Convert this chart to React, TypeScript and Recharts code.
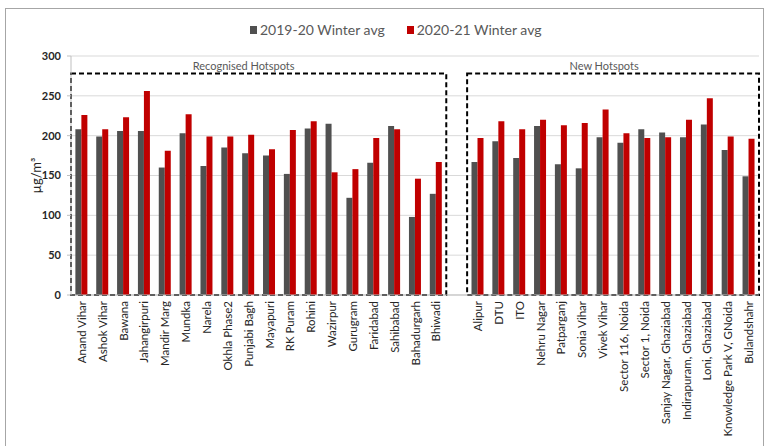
import { BarChart, Bar, XAxis, YAxis, CartesianGrid, ReferenceArea } from "recharts";

const recognised = [
  "Anand Vihar", "Ashok Vihar", "Bawana", "Jahangirpuri", "Mandir Marg", "Mundka", "Narela",
  "Okhla Phase2", "Punjabi Bagh", "Mayapuri", "RK Puram", "Rohini", "Wazirpur", "Gurugram",
  "Faridabad", "Sahibabad", "Bahadurgarh", "Bhiwadi",
];
const newHotspots = [
  "Alipur", "DTU", "ITO", "Nehru Nagar", "Patparganj", "Sonia Vihar", "Vivek Vihar",
  "Sector 116, Noida", "Sector 1, Noida", "Sanjay Nagar, Ghaziabad", "Indirapuram, Ghaziabad",
  "Loni, Ghaziabad", "Knowledge Park V, GNoida", "Bulandshahr",
];

// 2019-20 winter average, µg/m³
const recognised1920 = [208, 199, 206, 206, 160, 203, 162, 185, 178, 175, 152, 209, 215, 122, 166, 212, 98, 127];
const new1920 = [167, 193, 172, 212, 164, 159, 198, 191, 208, 204, 198, 214, 182, 149];
// 2020-21 winter average, µg/m³
const recognised2021 = [226, 208, 223, 256, 181, 227, 199, 199, 201, 183, 207, 218, 154, 158, 197, 208, 146, 167];
const new2021 = [197, 218, 208, 220, 213, 216, 233, 203, 197, 198, 220, 247, 199, 196];

const yTicks = [0, 50, 100, 150, 200, 250, 300];
const series = ["2019-20 Winter avg", "2020-21 Winter avg"];
const colors = ["#505050", "#c00000"];

const rows = [
  ...recognised.map((name, i) => ({ name, a: recognised1920[i], b: recognised2021[i] })),
  { name: " ", a: null, b: null },
  ...newHotspots.map((name, i) => ({ name, a: new1920[i], b: new2021[i] })),
];

const font = "Lato, 'DejaVu Sans', sans-serif";

const XTick = ({ x, y, payload }: any) => (
  <text
    x={x}
    y={y}
    transform={`rotate(-90 ${x} ${y})`}
    textAnchor="end"
    dominantBaseline="central"
    fontSize={11.5}
    fontFamily={font}
    fill="#262626"
  >
    {payload.value}
  </text>
);

export default function App() {
  return (
    <div style={{ position: "absolute", left: 0, top: 0, width: 766, height: 446, overflow: "hidden", background: "#fff" }}>
      <div style={{ position: "absolute", left: 5, top: 8, width: 757, height: 460, border: "1px solid #a6a6a6" }} />
      <div style={{ position: "absolute", left: 250, top: 21, display: "flex", alignItems: "center", fontFamily: font, fontSize: 14, color: "#595959" }}>
        {series.map((s, i) => (
          <div key={s} style={{ display: "flex", alignItems: "center", marginRight: 22 }}>
            <span style={{ width: 7, height: 8, background: colors[i], marginRight: 3, display: "inline-block" }} />
            {s}
          </div>
        ))}
      </div>
      <div style={{ position: "absolute", left: 0, top: 0 }}>
        <BarChart
          width={766}
          height={446}
          data={rows}
          margin={{ top: 56, right: 7, left: 0, bottom: 0 }}
          barGap={0}
          barCategoryGap="21%"
        >
          <CartesianGrid vertical={false} stroke="#d9d9d9" />
          <XAxis
            dataKey="name"
            interval={0}
            height={151}
            tick={<XTick />}
            tickLine={false}
            tickSize={0}
            tickMargin={6}
            axisLine={{ stroke: "#bfbfbf" }}
          />
          <YAxis
            width={71}
            domain={[0, 300]}
            ticks={yTicks}
            tickSize={4}
            tickMargin={6}
            tickLine={{ stroke: "#bfbfbf" }}
            axisLine={{ stroke: "#bfbfbf" }}
            tick={{ fontSize: 11, fontFamily: font, fontWeight: 700, fill: "#262626" }}
            label={{ value: "µg/m³", angle: -90, position: "center", dx: 1, fontSize: 13, fontFamily: font, fill: "#262626" }}
          />
          <Bar dataKey="a" name={series[0]} fill={colors[0]} isAnimationActive={false} />
          <Bar dataKey="b" name={series[1]} fill={colors[1]} isAnimationActive={false} />
          <ReferenceArea
            x1={recognised[0]}
            x2={recognised[recognised.length - 1]}
            y1={0}
            y2={278}
            fill="none"
            stroke="#000"
            strokeWidth={2}
            strokeDasharray="5 3"
            ifOverflow="visible"
            label={{ value: "Recognised Hotspots", position: "top", offset: 4, dx: -15, fontSize: 11, fontFamily: font, fill: "#595959" }}
          />
          <ReferenceArea
            x1={newHotspots[0]}
            x2={newHotspots[newHotspots.length - 1]}
            y1={0}
            y2={278}
            fill="none"
            stroke="#000"
            strokeWidth={2}
            strokeDasharray="5 3"
            ifOverflow="visible"
            label={{ value: "New Hotspots", position: "top", offset: 4, dx: -9, fontSize: 11, fontFamily: font, fill: "#595959" }}
          />
        </BarChart>
      </div>
    </div>
  );
}
